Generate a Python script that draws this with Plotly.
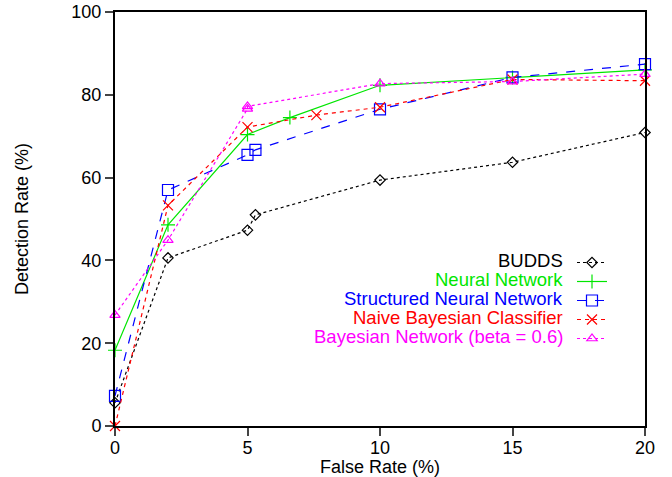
import plotly.graph_objects as go

# Data
budds_x = [0, 2, 5, 5.3, 10, 15, 20]
budds_y = [5.6, 40.6, 47.3, 51.0, 59.4, 63.7, 70.9]

nn_x = [0, 2, 5, 6.6, 10, 15, 20]
nn_y = [18.3, 48.6, 70.4, 74.5, 82.3, 84.2, 86.0]

snn_x = [0, 2, 5, 5.3, 10, 15, 20]
snn_y = [7.3, 57.0, 65.5, 66.7, 76.5, 84.2, 87.4]

nbc_x = [0, 2, 5, 7.6, 10, 15, 20]
nbc_y = [0.0, 53.3, 72.2, 75.1, 77.0, 83.7, 83.4]

bn_x = [0, 2, 5, 5, 10, 15, 20]
bn_y = [26.8, 44.9, 76.6, 77.2, 82.7, 83.2, 85.0]

names = ["BUDDS", "Neural Network", "Structured Neural Network",
         "Naive Bayesian Classifier", "Bayesian Network (beta = 0.6)"]
colors = ["#000000", "#00e600", "#0000ff", "#ff0000", "#ff00ff"]
dashes = ["dot", "solid", "dash", "4px,4px", "dot"]
symbols = ["diamond-open", "cross-thin-open", "square-open", "x-thin-open", "triangle-up-open"]
sizes = [8, 10, 11, 10, 9]
xs = [budds_x, nn_x, snn_x, nbc_x, bn_x]
ys = [budds_y, nn_y, snn_y, nbc_y, bn_y]

FONT = "Liberation Sans, Arial, sans-serif"

W, H = 672, 477
L, R, T, B = 115, 27, 12, 51
PW, PH = W - L - R, H - T - B

fig = go.Figure()
for i in range(5):
    fig.add_trace(go.Scatter(
        x=xs[i], y=ys[i], mode="lines+markers", name=" ",
        line=dict(color=colors[i], dash=dashes[i], width=1.2),
        marker=dict(symbol=symbols[i], size=sizes[i], color=colors[i],
                    line=dict(color=colors[i], width=1.2)),
        cliponaxis=False,
    ))

# legend text as right-aligned annotations next to legend samples
row_y = [260.7, 279.7, 298.7, 317.7, 336.7]
for i in range(5):
    fig.add_annotation(
        x=(565 - L) / PW, y=1 - (row_y[i] - T) / PH, xref="paper", yref="paper",
        text=names[i], showarrow=False, xanchor="right", yanchor="middle",
        font=dict(family=FONT, size=18.5, color=colors[i]),
    )

fig.update_layout(
    width=W, height=H,
    margin=dict(l=L, r=R, t=T, b=B),
    paper_bgcolor="white", plot_bgcolor="white",
    font=dict(family=FONT, size=18, color="black"),
    showlegend=True,
    legend=dict(x=(572 - L) / PW, y=1 - (248 - T) / PH,
                xanchor="left", yanchor="top",
                bgcolor="rgba(0,0,0,0)", font=dict(size=12),
                tracegroupgap=0),
)
fig.update_xaxes(range=[0, 20], tickvals=[0, 5, 10, 15, 20], ticks="outside",
                 ticklen=8, tickwidth=2, showline=True, linewidth=2, linecolor="black",
                 mirror=True, showgrid=False, zeroline=False, automargin=False,
                 ticklabelstandoff=-4,
                 title=dict(text="False Rate (%)", font=dict(size=18), standoff=4),
                 tickfont=dict(size=18))
fig.update_yaxes(range=[0, 100], tickvals=[0, 20, 40, 60, 80, 100], ticks="outside",
                 ticklen=8, tickwidth=2, showline=True, linewidth=2, linecolor="black",
                 mirror=True, showgrid=False, zeroline=False, automargin=False,
                 title=dict(text="Detection Rate (%)", font=dict(size=18), standoff=38),
                 tickfont=dict(size=18))

fig.write_html("out.html", config={"displayModeBar": False},
               post_script="document.body.style.margin='0px';document.documentElement.style.margin='0px';")
